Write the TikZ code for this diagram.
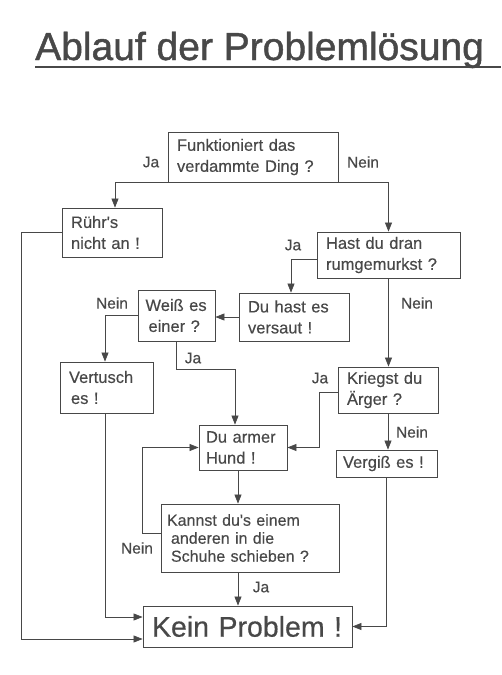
\documentclass[tikz,border=0pt]{standalone}
\usepackage{fontspec}
\setmainfont{Liberation Sans}
\newfontfamily\boxfont{Liberation Sans}[FakeBold=0.4]
\newfontfamily\titlefont{Liberation Sans}[FakeBold=1.2]
\usetikzlibrary{arrows.meta}
\definecolor{ink}{HTML}{484848}
\begin{document}
\begin{tikzpicture}[x=1pt,y=-1pt,
  box/.style={draw=ink, line width=0.8pt, rectangle, align=left, text=ink,
    font=\boxfont\fontsize{16.5}{21}\selectfont, inner xsep=9pt, inner ysep=0pt, anchor=center},
  lbl/.style={text=ink, font=\boxfont\fontsize{15.5}{17}\selectfont, inner sep=0pt},
  arr/.style={draw=ink, line width=0.7pt, -{Triangle[length=9pt,width=7pt]}},
  ln/.style={draw=ink, line width=1.3pt}]
\useasboundingbox (0,0) rectangle (501,675);
% title
\node[anchor=base west, font=\titlefont\fontsize{39}{40}\selectfont, text=ink, inner sep=0pt] (title) at (35,60) {Ablauf der Problemlösung};
\coordinate (ulA) at (35,67);
\coordinate (ulB) at (501,67);
\draw[ln] (ulA) -- (ulB);
% boxes
\node[box, minimum width=170pt, minimum height=50pt, text width=152pt] (f) at (253,157) {Funktioniert das\\verdammte Ding ?};
\node[box, minimum width=100pt, minimum height=49pt, text width=82pt] (r) at (112,232.5) {Rühr\textquotesingle s\\nicht an !};
\node[box, minimum width=143pt, minimum height=46pt, text width=125pt] (h) at (388.5,255) {Hast du dran\\rumgemurkst ?};
\node[box, minimum width=110pt, minimum height=48pt, text width=92pt] (d) at (294,317) {Du hast es\\versaut !};
\node[box, minimum width=77pt, minimum height=51pt, text width=62pt, inner xsep=7.5pt] (w) at (176.5,315.5) {Weiß es\\\hspace*{3pt}einer ?};
\node[box, minimum width=93pt, minimum height=51pt, text width=75pt] (v) at (106.5,387.5) {Vertusch\\\hspace*{2pt}es !};
\node[box, minimum width=100pt, minimum height=46pt, text width=82pt] (k) at (388,390) {Kriegst du\\Ärger ?};
\node[box, minimum width=88pt, minimum height=45pt, text width=74pt, inner xsep=7pt] (a) at (243,447.5) {Du armer\\Hund !};
\node[box, minimum width=101pt, minimum height=27pt, text width=87pt, inner xsep=7pt] (g) at (386.5,463.5) {Vergiß es !};
\node[box, minimum width=178pt, minimum height=68pt, text width=166pt, inner xsep=6pt, font=\boxfont\fontsize{16}{18}\selectfont] (s) at (250,538) {Kannst du\textquotesingle s einem\\\hspace*{4pt}anderen in die\\\hspace*{4pt}Schuhe schieben ?};
\node[box, minimum width=209pt, minimum height=41pt, text width=191pt, font=\boxfont\fontsize{28.5}{30}\selectfont] (p) at (247.5,626.5) {Kein Problem !};
% labels
\node[lbl] (lf1) at (151,162) {Ja};
\node[lbl] (lf2) at (363,162) {Nein};
\node[lbl] (lh1) at (293,245) {Ja};
\node[lbl] (lw1) at (112,303) {Nein};
\node[lbl] (lh2) at (417,303) {Nein};
\node[lbl] (lw2) at (193,358) {Ja};
\node[lbl] (lk1) at (320,378) {Ja};
\node[lbl] (lk2) at (412,432) {Nein};
\node[lbl] (ls1) at (137,548) {Nein};
\node[lbl] (ls2) at (261,587) {Ja};
% connectors
\draw[arr] (f.south west) -| ([xshift=3pt]r.north);
\draw[arr] (f.south east) -| (h.north);
\draw[arr] (r.west) -- ++(-40,0) |- ([yshift=-12.5pt]p.west);
\draw[arr] ([yshift=-4pt]h.west) -| ([xshift=-3pt]d.north);
\draw[arr] (d.west) -- (d.west -| w.east);
\draw[arr] (w.west) -| ([xshift=-1.5pt]v.north);
\draw[arr] (w.south) -- ++(0,28) -| ([xshift=-8pt]a.north);
\draw[arr] (h.south) -- (h.south |- k.north);
\draw[arr] ([yshift=-2pt]k.west) -- ++(-18,0) |- (a.east);
\draw[arr] (k.south) -- (k.south |- g.north);
\draw[arr] (g.south) |- (p.east);
\draw[arr] ([xshift=-5pt]a.south) -- ([xshift=-5pt]a.south |- s.north);
\draw[arr] ([yshift=5pt]s.west) -- ++(-18,0) |- (a.west);
\draw[arr] ([xshift=-12pt]s.south) -- ([xshift=-12pt]s.south |- p.north);
\draw[arr] ([xshift=-1.5pt]v.south) |- ([yshift=9.5pt]p.west);
\end{tikzpicture}
\end{document}
